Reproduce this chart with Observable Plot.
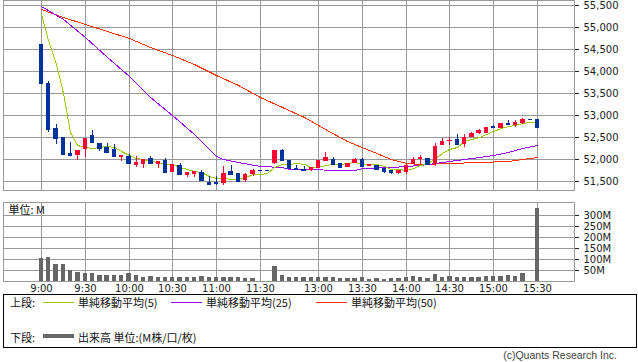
<!DOCTYPE html>
<html><head><meta charset="utf-8">
<script src="https://cdn.jsdelivr.net/npm/d3@7"></script>
<script src="https://cdn.jsdelivr.net/npm/@observablehq/plot@0.6"></script>
<style>
body{margin:0;background:#fff;}
#wrap{position:relative;width:638px;height:362px;overflow:hidden;background:#fff;}
#wrap svg{position:absolute;left:0;}
.lg{position:absolute;font-family:"Noto Sans CJK JP",sans-serif;font-size:11px;color:#111;line-height:14px;white-space:nowrap;}
.ln{position:absolute;height:0;}
</style></head><body><div id="wrap"></div>
<script>
// ---- data ----
const timeTickIdx = [0,6,12,18,24,30,38,44,50,56,62,68];
const timeLabels = ["9:00","9:30","10:00","10:30","11:00","11:30","13:00","13:30","14:00","14:30","15:00","15:30"];
const priceTicks = [51500,52000,52500,53000,53500,54000,54500,55000,55500];
const volTicks = [50,100,150,200,250,300];

const opens  = [54620,53734,52711,52507,52143,52098,52218,52552,52370,52264,52218,52052,52075,51870,51893,52023,51886,51984,51696,51870,51643,51650,51705,51484,51468,51445,51734,51689,51523,51650,51750,51750,51900,52211,51984,51795,51773,51750,51795,51945,52007,51909,51809,51909,52007,51832,51870,51786,51757,51686,51710,51886,52007,52023,51893,52309,52409,52461,52348,52491,52591,52600,52757,52711,52810,52780,52810,52900,52916];
const highs  = [54620,53780,52802,52507,52393,52211,52484,52666,52370,52370,52348,52082,52114,52075,51991,52075,51961,52030,51893,51916,51711,51727,51741,51605,51605,51832,51855,51689,51682,51780,51750,51750,52211,52234,51984,51855,51832,51820,51968,52150,52052,51909,51900,52023,52030,51877,51870,51786,51757,51755,51877,52040,52082,52023,52355,52468,52500,52559,52575,52620,52680,52734,52780,52818,52893,52893,52932,52900,52916];
const lows   = [53718,52605,52348,52098,52075,51968,52036,52377,52189,52136,52059,51945,51900,51809,51795,51877,51786,51696,51696,51650,51582,51591,51507,51423,51416,51400,51627,51468,51484,51605,51750,51750,51886,51968,51773,51741,51727,51735,51790,51945,51893,51786,51809,51909,51832,51832,51780,51686,51666,51660,51650,51886,51886,51886,51832,52309,52325,52348,52264,52491,52575,52600,52718,52711,52764,52718,52800,52900,52718];
const closes = [53718,52673,52468,52120,52090,52211,52484,52377,52241,52166,52059,52082,51900,51939,51991,51900,51961,51696,51893,51650,51711,51727,51530,51423,51455,51689,51666,51507,51666,51757,51750,51750,52211,51968,51786,51773,51741,51809,51968,52036,51893,51809,51900,51991,51832,51877,51780,51718,51696,51755,51865,52007,52036,51886,52302,52416,52439,52348,52500,52598,52666,52730,52718,52818,52787,52848,52909,52900,52727];
const volumes = [106,109,77,77,50,41,36,36,27,27,27,27,36,27,20,23,20,20,20,20,20,17,23,20,20,17,20,20,12,15,2,0,68,27,20,20,17,20,20,20,20,14,14,14,20,11,14,11,14,14,20,23,20,14,32,20,23,20,20,20,20,23,23,23,27,23,36,2,332];

const ma5 = [55300,54711,54166,53507,52614,52312,52275,52256,52281,52296,52265,52185,52090,52029,51994,51962,51938,51897,51888,51820,51782,51735,51702,51608,51569,51565,51553,51548,51597,51657,51669,51686,51827,51887,51893,51898,51896,51814,51811,51860,51884,51896,51919,51926,51887,51887,51882,51843,51784,51766,51758,51804,51867,51905,52018,52129,52216,52278,52401,52460,52510,52568,52642,52705,52743,52780,52816,52852,52834];
const ma25Idx = [0,3,6,9,12,15,18,21,24,25,27,30,33,34,43,44,48,50,52,54,56,58,60,62,64,66,68];
const ma25Val = [55484,55189,54780,54325,53893,53416,53007,52575,52075,52007,51927,51848,51814,51768,51757,51796,51814,51836,51859,51905,51950,51995,52041,52098,52166,52245,52325];
const ma50Idx = [0,3,6,9,12,15,18,21,24,27,30,33,36,39,42,45,48,50,52,56,60,64,66,68];
const ma50Val = [55409,55223,55064,54916,54745,54552,54370,54166,53916,53689,53416,53177,52961,52689,52416,52200,52007,51905,51893,51905,51927,51961,52007,52052];

// ---- tables ----
const candles = opens.map((o, i) => ({i, o, h: highs[i], l: lows[i], c: closes[i], v: volumes[i], up: closes[i] > o}));
const ma5Pts = ma5.map((v, i) => ({i, v}));
const ma25Pts = ma25Idx.map((i, k) => ({i, v: ma25Val[k]}));
const ma50Pts = ma50Idx.map((i, k) => ({i, v: ma50Val[k]}));

const RED = "#ff0033", BLUE = "#003399", GRID = "#999999";
const col = d => d.up ? RED : BLUE;
const xDomain = [-5.2097, 73.073];
const axisFont = {fontFamily: "DejaVu Sans, sans-serif", fontSize: "10px", color: "#222", background: "transparent"};
const fmtPrice = d3.format(",");
const crisp = {shapeRendering: "crispEdges"};

const priceChart = Plot.plot({
  width: 638, height: 192,
  marginLeft: 3, marginRight: 64, marginTop: 0, marginBottom: 2,
  style: axisFont,
  x: {domain: xDomain, axis: null, round: true},
  y: {domain: [51295.45, 55613.64], axis: "right", ticks: priceTicks, tickFormat: fmtPrice, tickSize: 4, tickPadding: 5, label: null, round: true},
  marks: [
    Plot.ruleY(priceTicks, {stroke: GRID, strokeOpacity: 1, ...crisp}),
    Plot.ruleX(timeTickIdx, {stroke: GRID, strokeOpacity: 1, ...crisp}),
    Plot.frame({stroke: GRID, ...crisp}),
    Plot.line(ma50Pts, {x: "i", y: "v", stroke: "#ff3300", strokeWidth: 1, ...crisp}),
    Plot.line(ma25Pts, {x: "i", y: "v", stroke: "#9900ff", strokeWidth: 1, ...crisp}),
    Plot.line(ma5Pts, {x: "i", y: "v", stroke: "#99cc00", strokeWidth: 1, ...crisp}),
    Plot.ruleX(candles, {x: "i", y1: "l", y2: "h", stroke: col, strokeWidth: 1, ...crisp}),
    Plot.rect(candles, {x1: d => d.i - 0.3, x2: d => d.i + 0.3, y1: "o", y2: "c", fill: col, ...crisp}),
    Plot.ruleY(candles, {y: "c", x1: d => d.i - 0.3, x2: d => d.i + 0.3, stroke: col, ...crisp})
  ]
});
priceChart.style.top = "0px";

const volChart = Plot.plot({
  width: 638, height: 101,
  marginLeft: 3, marginRight: 64, marginTop: 6, marginBottom: 16,
  style: axisFont,
  x: {domain: xDomain, axis: "bottom", ticks: timeTickIdx, tickFormat: d => timeLabels[timeTickIdx.indexOf(d)], tickSize: 0, tickPadding: 3, label: null, round: true},
  y: {domain: [0, 359.09], axis: "right", ticks: volTicks, tickFormat: d => d + "M", tickSize: 4, tickPadding: 5, label: null, round: true},
  marks: [
    Plot.ruleY(volTicks, {stroke: GRID, ...crisp}),
    Plot.ruleX(timeTickIdx, {stroke: GRID, ...crisp}),
    Plot.frame({stroke: GRID, ...crisp}),
    Plot.rect(candles, {x1: d => d.i - 0.3, x2: d => d.i + 0.3, y1: 0, y2: "v", fill: "#666666", ...crisp}),
    Plot.text(["単位: M"], {frameAnchor: "top-left", dx: 5, dy: 4, textAnchor: "start", lineAnchor: "top", fontSize: 11, fontFamily: "Noto Sans CJK JP, sans-serif", fill: "#111"})
  ]
});
volChart.style.top = "196px";

const wrap = document.getElementById("wrap");
wrap.appendChild(priceChart);
wrap.appendChild(volChart);

// ---- legend ----
const legendItems = [
  {t: "上段:", x: 10, y: 295},
  {t: "単純移動平均(5)", x: 78, y: 295},
  {t: "単純移動平均(25)", x: 206, y: 295},
  {t: "単純移動平均(50)", x: 351, y: 295},
  {t: "下段:", x: 10, y: 330},
  {t: "出来高 単位:(M株/口/枚)", x: 78, y: 330}
];
const legendLines = [
  {x: 43, y: 302, w: 31, c: "#99cc00", h: 1},
  {x: 171, y: 302, w: 31, c: "#9900ff", h: 1},
  {x: 316, y: 302, w: 31, c: "#ff3300", h: 1},
  {x: 43, y: 336, w: 31, c: "#666666", h: 4}
];
const box = document.createElement("div");
box.style.cssText = "position:absolute;left:3px;top:294px;width:632px;height:52px;border:1px solid #000;";
wrap.appendChild(box);
legendItems.forEach(d => {
  const s = document.createElement("div");
  s.className = "lg"; s.textContent = d.t;
  s.style.left = d.x + "px"; s.style.top = d.y + "px";
  wrap.appendChild(s);
});
legendLines.forEach(d => {
  const s = document.createElement("div");
  s.className = "ln";
  s.style.cssText += `left:${d.x}px;top:${d.y - d.h / 2}px;width:${d.w}px;border-top:${d.h}px solid ${d.c};`;
  wrap.appendChild(s);
});
const cp = document.createElement("div");
cp.textContent = "(c)Quants Research Inc.";
cp.style.cssText = "position:absolute;right:21px;top:349px;font-family:'Liberation Sans',sans-serif;font-size:10.5px;color:#444;";
wrap.appendChild(cp);
</script></body></html>
